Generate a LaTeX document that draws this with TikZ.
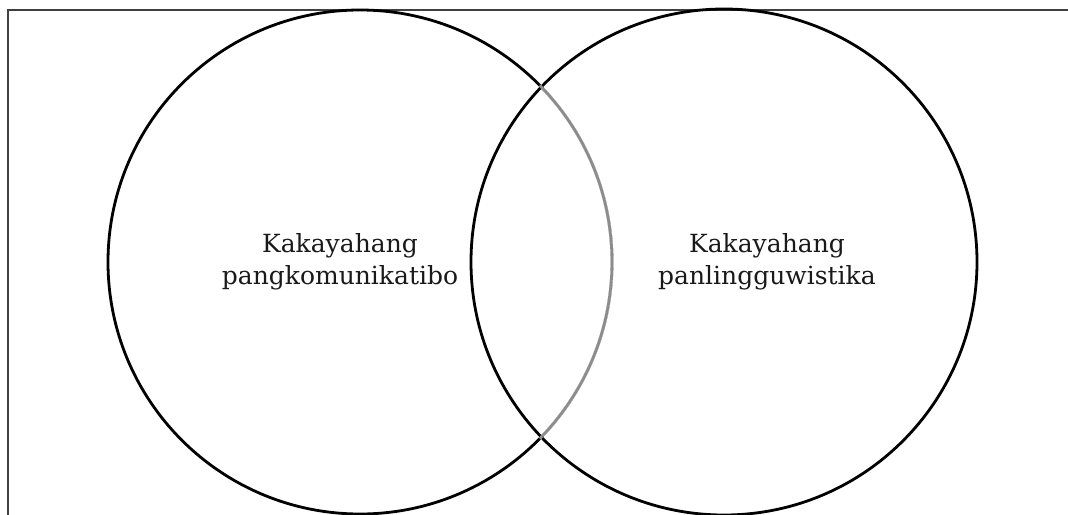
\documentclass[tikz,border=0pt]{standalone}
\usepackage{fontspec}
\setmainfont{DejaVu Serif}
\begin{document}
\begin{tikzpicture}[x=1pt,y=-1pt,
  ring/.style={line width=2.8pt,draw=black},
  frame/.style={line width=2.4pt,draw=black!75},
  lbl/.style={align=center,font=\fontsize{25}{32}\selectfont,text=black!90}]
\useasboundingbox (0,0) rectangle (1068,514);
\begin{scope}
\clip (0,0) rectangle (1068,514);
\draw[frame] (8,530) -- (8,10) -- (1080,10);
\node[draw=none,circle,minimum size=504pt] (L) at (360,262) {};
\node[draw=none,circle,minimum size=506pt] (R) at (724,262) {};
\draw[ring] (L.center) circle[radius=252];
\draw[ring] (R.center) circle[radius=253];
\draw[line width=3.2pt,draw=white] (L.center) ++(-43.5:252) arc[start angle=-43.5,end angle=43.5,radius=252];
\draw[line width=2.8pt,draw=black!45] (L.center) ++(-44.5:252) arc[start angle=-44.5,end angle=44.5,radius=252];
\end{scope}
\node[lbl] (tl) at (340,262) {Kakayahang\\pangkomunikatibo};
\node[lbl] (tr) at (767,262) {Kakayahang\\panlingguwistika};
\end{tikzpicture}
\end{document}
